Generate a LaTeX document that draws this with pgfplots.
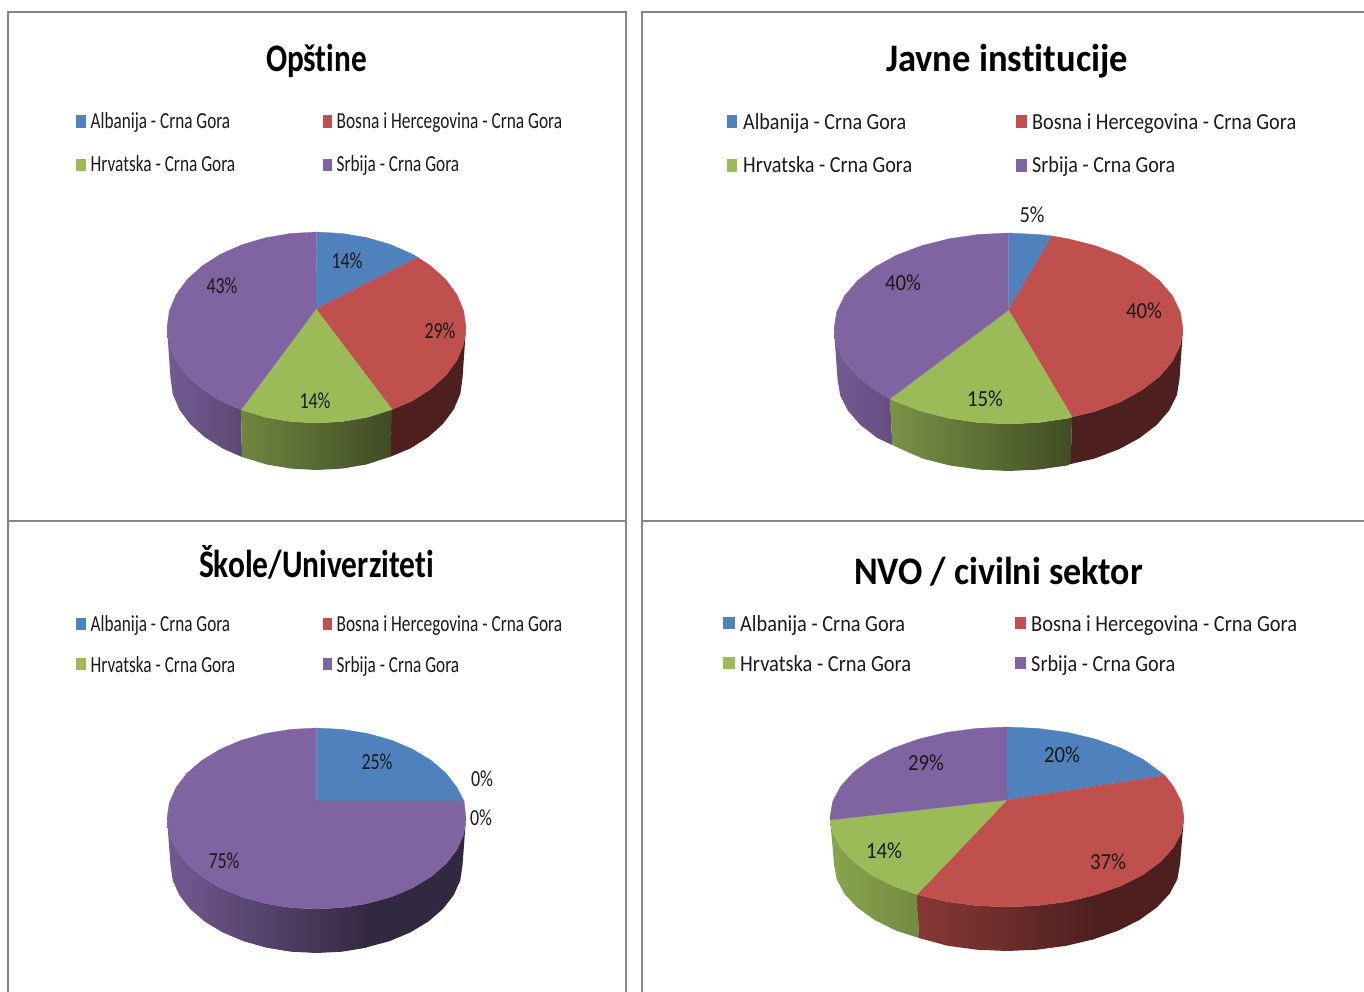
\documentclass[border=0pt]{standalone}
\usepackage{fontspec}
\usepackage{graphicx}
\usepackage{pgfplots}
\pgfplotsset{compat=1.18}
\setmainfont[Ligatures=NoCommon]{Carlito}
\definecolor{pb}{HTML}{4F81BD}
\definecolor{pr}{HTML}{C0504D}
\definecolor{pg}{HTML}{9BBB59}
\definecolor{pp}{HTML}{8064A2}
\definecolor{frame}{HTML}{868686}
\definecolor{ink}{HTML}{1A1A1A}
% text helpers: x, baseline y, width, text
\newcommand\ttl[4]{\node[anchor=base,inner sep=0pt,text=black] at (axis cs:#1,#2) {\resizebox{#3pt}{\height}{\fontsize{39}{39}\selectfont\bfseries #4}};}
\newcommand\leg[4]{\node[anchor=base west,inner sep=0pt,text=ink] at (axis cs:#1,#2) {\resizebox{#3pt}{\height}{\fontsize{23}{23}\selectfont #4}};}
\newcommand\dl[4]{\node[anchor=center,inner sep=0pt,text=ink] at (axis cs:#1,#2) {\resizebox{#3pt}{\height}{\fontsize{23}{23}\selectfont #4}};}
\pgfplotsset{
  top/.style={fill=#1,draw=#1,line width=0.3pt,mark=none,forget plot},
  wall/.style n args={2}{draw=none,mark=none,forget plot,left color=#1,right color=#2},
  sw/.style={fill=#1,draw=none,mark=none,forget plot},
  rule/.style={draw=frame,line width=2pt,mark=none,forget plot}
}
\begin{document}
\begin{tikzpicture}
\useasboundingbox (0,0) rectangle (1364pt,992pt);
\begin{axis}[
  at={(0,0)}, anchor=south west,
  scale only axis, width=1364pt, height=992pt,
  xmin=0, xmax=1364, ymin=0, ymax=992, y dir=reverse,
  axis lines=none, clip=true]

% panel frames
\addplot[rule] coordinates {(8,992)(8,12.5)(626,12.5)(626,992)};
\addplot[rule] coordinates {(642,992)(642,12.5)(1364,12.5)};
\addplot[rule] coordinates {(8,521)(626,521)};
\addplot[rule] coordinates {(642,521)(1364,521)};

% ---------- Opstine ----------
\addplot[wall={pp!90!black}{pp!72!black}] coordinates {(241,409.7)(220.4,400.7)(202,388.9)(187,375.3)(176,360.2)(169.3,344.1)(167,327.5)(170.5,378)(172.7,394)(179.3,409.5)(190.1,424)(204.7,437.1)(222.7,448.5)(242,457)};
\addplot[wall={pg!72!black}{pg!40!black}] coordinates {(241,409.7)(265.4,417.2)(290.5,421.5)(316.5,423)(342.5,421.5)(367.6,417.2)(392,409.5)(391,456.5)(366.4,464.5)(341.9,468.6)(316.5,470)(291.1,468.6)(266.6,464.5)(242,457)};
\addplot[wall={pr!40!black}{pr!40!black}] coordinates {(392,409.5)(412.6,400.7)(431,388.9)(446,375.3)(457,360.2)(463.7,344.1)(466,327.5)(462.5,378)(460.3,394)(453.7,409.5)(442.9,424)(428.3,437.1)(410.3,448.5)(391,456.5)};
\addplot[top=pb] coordinates {(316,309)(316.5,232)(342.5,233.5)(367.6,237.8)(391.3,244.8)(412.6,254.3)(418,257.5)};
\addplot[top=pr] coordinates {(316,309)(418,257.5)(431,266.1)(446,279.7)(457,294.8)(463.7,310.9)(466,327.5)(463.7,344.1)(457,360.2)(446,375.3)(431,388.9)(412.6,400.7)(392,409.5)};
\addplot[top=pg] coordinates {(316,309)(392,409.5)(367.6,417.2)(342.5,421.5)(316.5,423)(290.5,421.5)(265.4,417.2)(241,409.7)};
\addplot[top=pp] coordinates {(316,309)(241,409.7)(220.4,400.7)(202,388.9)(187,375.3)(176,360.2)(169.3,344.1)(167,327.5)(169.3,310.9)(176,294.8)(187,279.7)(202,266.1)(220.4,254.3)(241.7,244.8)(265.4,237.8)(290.5,233.5)(316.5,232)};

% ---------- Javne institucije ----------
\addplot[wall={pp!90!black}{pp!78!black}] coordinates {(890,398.6)(874.8,389.9)(857.4,376.3)(844.5,361.2)(836.7,345.1)(834,328.5)(837.5,379)(840.1,395)(847.8,410.5)(860.4,425)(877.5,438.1)(892.3,445)};
\addplot[wall={pg!78!black}{pg!41!black}] coordinates {(890,398.6)(896.3,401.7)(921.2,411.2)(948.8,418.2)(978.2,422.5)(1008.5,424)(1038.8,422.5)(1068.2,418.2)(1072,417)(1070.7,464)(1067,465.5)(1038.2,469.6)(1008.5,471)(978.8,469.6)(950,465.5)(923,458.7)(898.6,448)(892.3,445)};
\addplot[wall={pr!40!black}{pr!40!black}] coordinates {(1072,417)(1095.8,411.2)(1120.7,401.7)(1142.2,389.9)(1159.6,376.3)(1172.5,361.2)(1180.3,345.1)(1183,328.5)(1179.5,379)(1176.9,395)(1169.2,410.5)(1156.6,425)(1139.5,438.1)(1118.4,449.5)(1094,458.7)(1070.7,464)};
\addplot[top=pb] coordinates {(1008.5,310)(1008.5,233)(1038.8,234.5)(1052,236)};
\addplot[top=pr] coordinates {(1008.5,310)(1052,236)(1068.2,238.8)(1095.8,245.8)(1120.7,255.3)(1142.2,267.1)(1159.6,280.7)(1172.5,295.8)(1180.3,311.9)(1183,328.5)(1180.3,345.1)(1172.5,361.2)(1159.6,376.3)(1142.2,389.9)(1120.7,401.7)(1095.8,411.2)(1072,417)};
\addplot[top=pg] coordinates {(1008.5,310)(1072,417)(1068.2,418.2)(1038.8,422.5)(1008.5,424)(978.2,422.5)(948.8,418.2)(921.2,411.2)(896.3,401.7)(890,398.6)};
\addplot[top=pp] coordinates {(1008.5,310)(890,398.6)(874.8,389.9)(857.4,376.3)(844.5,361.2)(836.7,345.1)(834,328.5)(836.7,311.9)(844.5,295.8)(857.4,280.7)(874.8,267.1)(896.3,255.3)(921.2,245.8)(948.8,238.8)(978.2,234.5)(1008.5,233)};

% ---------- Skole/Univerziteti ----------
\addplot[wall={pp!40!black}{pp!40!black}] coordinates {(364,904)(391.3,896.9)(412.6,887.8)(431,876.7)(446,863.8)(457,849.5)(463.7,834.2)(466,818.5)(462.5,865)(460.3,880.3)(453.7,895.1)(442.9,909)(428.3,921.6)(410.3,932.4)(389.5,941.2)(364,948)};
\addplot[wall={pp!90!black}{pp!41!black}] coordinates {(167,818.5)(169.3,834.2)(176,849.5)(187,863.8)(202,876.7)(220.4,887.8)(241.7,896.9)(265.4,903.5)(290.5,907.6)(316.5,909)(342.5,907.6)(367.6,903.5)(366.4,947.7)(341.9,951.7)(316.5,953)(291.1,951.7)(266.6,947.7)(243.5,941.2)(222.7,932.4)(204.7,921.6)(190.1,909)(179.3,895.1)(172.7,880.3)(170.5,865)};
\addplot[top=pb] coordinates {(316.5,801)(316.5,728)(342.5,729.4)(367.6,733.5)(391.3,740.1)(412.6,749.2)(431,760.3)(446,773.2)(457,787.5)(464,801)};
\addplot[top=pp] coordinates {(316.5,801)(464,801)(466,818.5)(463.7,834.2)(457,849.5)(446,863.8)(431,876.7)(412.6,887.8)(391.3,896.9)(367.6,903.5)(342.5,907.6)(316.5,909)(290.5,907.6)(265.4,903.5)(241.7,896.9)(220.4,887.8)(202,876.7)(187,863.8)(176,849.5)(169.3,834.2)(167,818.5)(169.3,802.8)(176,787.5)(187,773.2)(202,760.3)(220.4,749.2)(241.7,740.1)(265.4,733.5)(290.5,729.4)(316.5,728)};

% ---------- NVO ----------
\addplot[wall={pg!88!black}{pg!74!black}] coordinates {(917,894.5)(893.2,885.9)(871.4,874.9)(853.7,862)(840.7,847.8)(832.7,832.6)(830.2,820)(834,864)(836.6,879.1)(844.4,893.8)(857.2,907.5)(874.5,919.9)(895.8,930.6)(919,938)};
\addplot[wall={pr!40!black}{pr!40!black}] coordinates {(1092,895.5)(1120.8,885.9)(1142.6,874.9)(1160.3,862)(1173.3,847.8)(1181.3,832.6)(1184,817)(1180,864)(1177.4,879.1)(1169.6,893.8)(1156.8,907.5)(1139.5,919.9)(1118.2,930.6)(1092,939.8)};
\addplot[wall={pr!70!black}{pr!40!black}] coordinates {(917,894.5)(946.5,901.6)(976.3,905.6)(1007,907)(1037.7,905.6)(1067.5,901.6)(1095.5,894.9)(1093.5,939.3)(1066.2,945.8)(1037,949.7)(1007,951)(977,949.7)(947.8,945.8)(919,938)};
\addplot[top=pb] coordinates {(1007,800)(1007,727)(1037.7,728.4)(1067.5,732.4)(1095.5,739.1)(1120.8,748.1)(1142.6,759.1)(1160.3,772)(1165,775.5)};
\addplot[top=pr] coordinates {(1007,800)(1165,775.5)(1173.3,786.2)(1181.3,801.4)(1184,817)(1181.3,832.6)(1173.3,847.8)(1160.3,862)(1142.6,874.9)(1120.8,885.9)(1095.5,894.9)(1067.5,901.6)(1037.7,905.6)(1007,907)(976.3,905.6)(946.5,901.6)(917,894.5)};
\addplot[top=pg] coordinates {(1007,800)(917,894.5)(893.2,885.9)(871.4,874.9)(853.7,862)(840.7,847.8)(832.7,832.6)(830.2,820)};
\addplot[top=pp] coordinates {(1007,800)(830.2,820)(830,817)(832.7,801.4)(840.7,786.2)(853.7,772)(871.4,759.1)(893.2,748.1)(918.5,739.1)(946.5,732.4)(976.3,728.4)(1007,727)};

% ---------- legend swatches ----------
\addplot[sw=pb] coordinates {(76,115)(86,115)(86,128)(76,128)};
\addplot[sw=pr] coordinates {(323,115)(332,115)(332,128)(323,128)};
\addplot[sw=pg] coordinates {(76,159)(86,159)(86,171)(76,171)};
\addplot[sw=pp] coordinates {(323,159)(332,159)(332,171)(323,171)};
\addplot[sw=pb] coordinates {(727,115)(737,115)(737,128)(727,128)};
\addplot[sw=pr] coordinates {(1016,115)(1027,115)(1027,128)(1016,128)};
\addplot[sw=pg] coordinates {(727,159)(737,159)(737,172)(727,172)};
\addplot[sw=pp] coordinates {(1016,159)(1027,159)(1027,172)(1016,172)};
\addplot[sw=pb] coordinates {(76,618)(86,618)(86,630)(76,630)};
\addplot[sw=pr] coordinates {(323,618)(332,618)(332,630)(323,630)};
\addplot[sw=pg] coordinates {(76,658)(86,658)(86,670)(76,670)};
\addplot[sw=pp] coordinates {(323,658)(332,658)(332,670)(323,670)};
\addplot[sw=pb] coordinates {(723,617)(735,617)(735,629)(723,629)};
\addplot[sw=pr] coordinates {(1015,617)(1026,617)(1026,629)(1015,629)};
\addplot[sw=pg] coordinates {(723,657)(735,657)(735,669)(723,669)};
\addplot[sw=pp] coordinates {(1015,657)(1026,657)(1026,669)(1015,669)};

% ---------- titles ----------
\ttl{316.5}{72}{101}{Opštine}
\ttl{1007}{72}{242}{Javne institucije}
\ttl{316.5}{577.5}{235}{Škole/Univerziteti}
\ttl{998.5}{584.5}{289}{NVO / civilni sektor}

% ---------- legend texts ----------
\leg{90.5}{129}{139.5}{Albanija - Crna Gora}
\leg{336.5}{129}{225.5}{Bosna i Hercegovina - Crna Gora}
\leg{90.5}{172}{144.5}{Hrvatska - Crna Gora}
\leg{336.5}{172}{122.5}{Srbija - Crna Gora}
\leg{743}{130}{163}{Albanija - Crna Gora}
\leg{1032}{130}{264}{Bosna i Hercegovina - Crna Gora}
\leg{743}{173}{169}{Hrvatska - Crna Gora}
\leg{1032}{173}{143}{Srbija - Crna Gora}
\leg{90.5}{631}{139.5}{Albanija - Crna Gora}
\leg{336.5}{631}{225.5}{Bosna i Hercegovina - Crna Gora}
\leg{90.5}{672}{144.5}{Hrvatska - Crna Gora}
\leg{336.5}{672}{122.5}{Srbija - Crna Gora}
\leg{740}{631}{165}{Albanija - Crna Gora}
\leg{1031}{631}{266}{Bosna i Hercegovina - Crna Gora}
\leg{740}{671}{171}{Hrvatska - Crna Gora}
\leg{1031}{671}{144}{Srbija - Crna Gora}

% ---------- data labels ----------
\dl{347}{261}{31}{14\%}
\dl{440}{331}{31}{29\%}
\dl{315}{401}{31}{14\%}
\dl{222}{286}{31}{43\%}
\dl{1032}{215}{25}{5\%}
\dl{1144}{311}{36}{40\%}
\dl{985}{399}{36}{15\%}
\dl{903}{283}{36}{40\%}
\dl{377}{762}{31}{25\%}
\dl{482}{779}{22}{0\%}
\dl{481}{818}{22}{0\%}
\dl{224}{861}{31}{75\%}
\dl{1062}{755}{36}{20\%}
\dl{1108}{862}{36}{37\%}
\dl{884}{851}{36}{14\%}
\dl{926}{763}{36}{29\%}
\end{axis}
\end{tikzpicture}
\end{document}
